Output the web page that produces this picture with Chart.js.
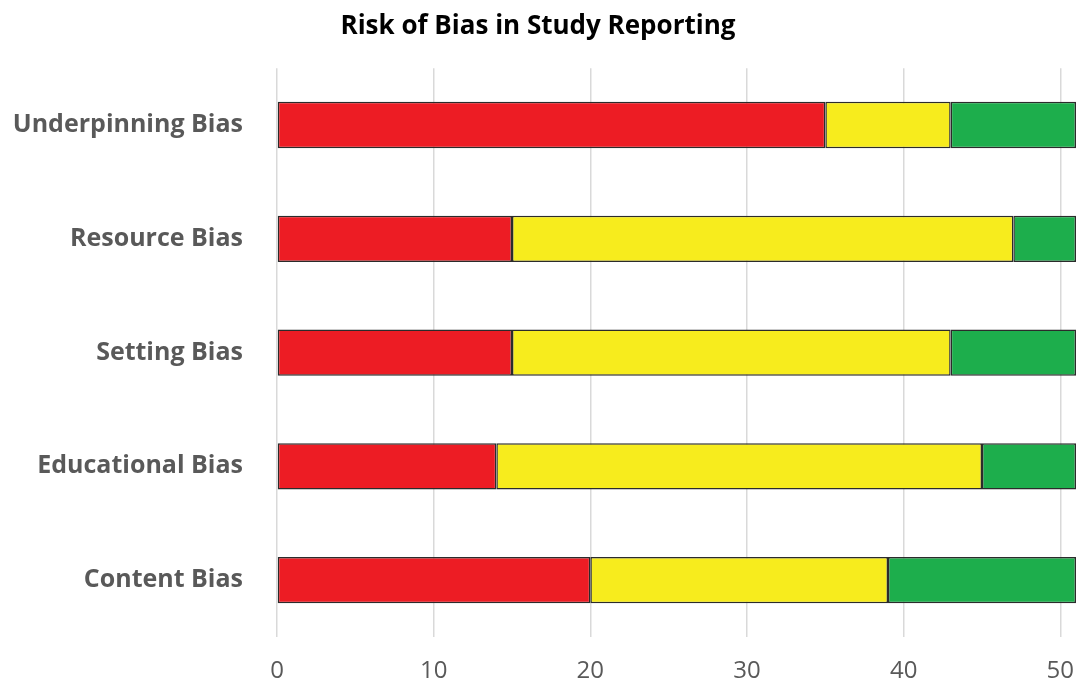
<!DOCTYPE html>
<html>
<head>
<meta charset="utf-8">
<script src="https://cdn.jsdelivr.net/npm/chart.js@4.4.0/dist/chart.umd.min.js"></script>
<style>
    body { margin: 0; background: #ffffff; }
</style>
</head>
<body>
<canvas id="biasChart" width="1078" height="684"></canvas>
<script>
const categories = ['Underpinning Bias', 'Resource Bias', 'Setting Bias', 'Educational Bias', 'Content Bias'];
const highRisk = [35, 15, 15, 14, 20];
const unclearRisk = [8, 32, 28, 31, 19];
const lowRisk = [8, 4, 8, 6, 12];
const xTicks = [0, 10, 20, 30, 40, 50];

const ctx = document.getElementById('biasChart').getContext('2d');
new Chart(ctx, {
    type: 'bar',
    data: {
        labels: categories,
        datasets: [
            { label: 'High', data: highRisk, backgroundColor: '#ED1C24' },
            { label: 'Unclear', data: unclearRisk, backgroundColor: '#F7EC1D' },
            { label: 'Low', data: lowRisk, backgroundColor: '#1DAE4C' }
        ].map(ds => Object.assign(ds, {
            borderColor: '#2b2b2b',
            borderWidth: 1.5,
            borderSkipped: false,
            barPercentage: 0.8,
            categoryPercentage: 0.51
        }))
    },
    options: {
        indexAxis: 'y',
        responsive: false,
        animation: false,
        layout: {
            padding: { left: 0, right: 2, top: 0, bottom: 0 }
        },
        plugins: {
            legend: { display: false },
            tooltip: { enabled: false },
            title: {
                display: true,
                text: 'Risk of Bias in Study Reporting',
                color: '#000000',
                font: { size: 26, weight: 'bold', family: 'Open Sans' },
                padding: { top: 11, bottom: 26 }
            }
        },
        scales: {
            x: {
                stacked: true,
                min: 0,
                max: 51,
                afterBuildTicks: (axis) => {
                    axis.ticks = xTicks.map(v => ({ value: v }));
                },
                grid: { color: '#d9d9d9', lineWidth: 1.5, drawTicks: false },
                border: { display: false },
                ticks: {
                    color: '#595959',
                    padding: 20,
                    font: { size: 24, family: 'Open Sans' }
                },
                afterFit: (axis) => {
                    axis.height = 47;
                    axis.paddingRight = 0;
                    axis.paddingLeft = 0;
                }
            },
            y: {
                stacked: true,
                grid: { display: false },
                border: { display: false },
                ticks: {
                    color: '#595959',
                    padding: 26,
                    font: { size: 25, weight: 'bold', family: 'Open Sans' }
                },
                afterFit: (axis) => { axis.width = 277; }
            }
        }
    }
});
</script>
</body>
</html>
